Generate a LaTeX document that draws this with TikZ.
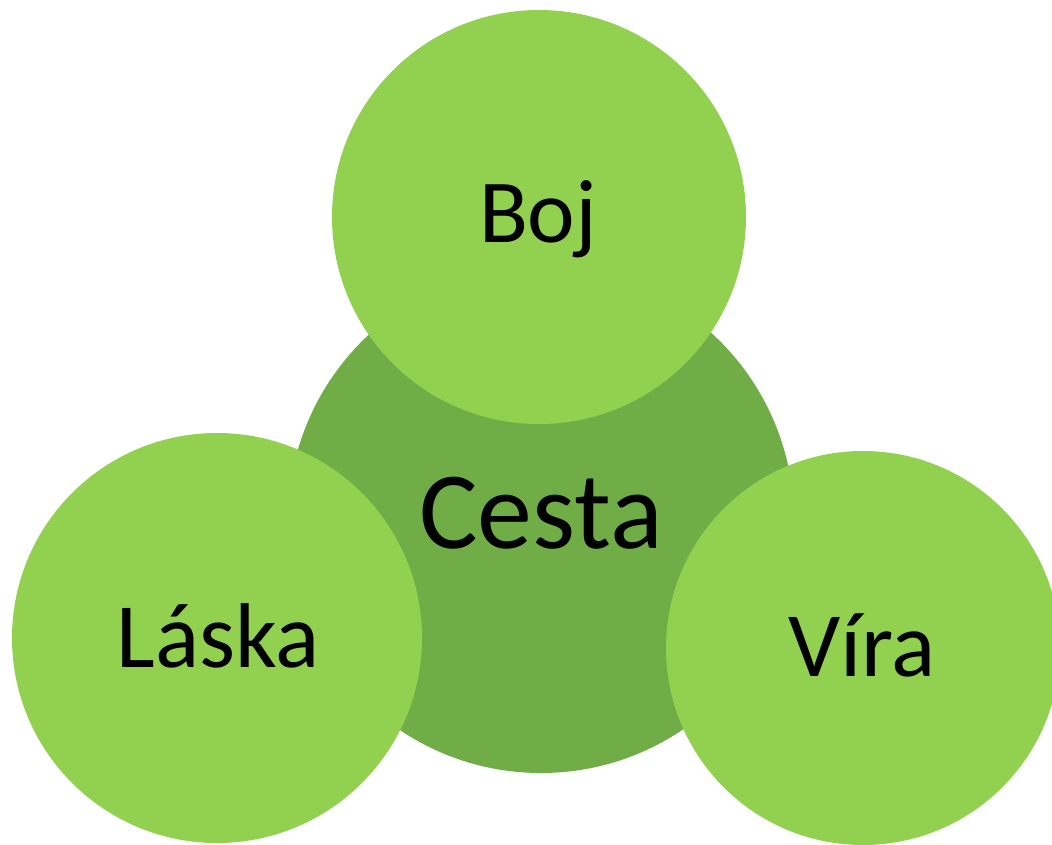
\documentclass[tikz,border=0pt]{standalone}
\usepackage{fontspec}
\setmainfont{Carlito}
\definecolor{lightg}{HTML}{92D050}
\definecolor{darkg}{HTML}{70AD47}
\begin{document}
\begin{tikzpicture}[x=1pt,y=-1pt,
  bubble/.style={circle,inner sep=0pt,fill=lightg,draw=none},
  core/.style={circle,inner sep=0pt,fill=darkg,draw=none},
  word/.style={anchor=base,inner sep=0pt,text=black}]
\useasboundingbox (0,0) rectangle (1052,845);
\node[core,minimum size=506pt] (cesta) at (541,520) {};
\node[bubble,minimum size=414pt] (boj) at (539,217) {};
\node[bubble,minimum size=410pt] (laska) at (217,638) {};
\node[bubble,minimum size=394pt] (vira) at (863,648) {};
\node[word,font=\fontsize{110}{120}\selectfont] (tcesta) at (541,548) {Cesta};
\node[word,font=\fontsize{90}{100}\selectfont] (tboj) at (538,243) {Boj};
\node[word,font=\fontsize{92}{100}\selectfont] (tlaska) at (218,667) {Láska};
\node[word,font=\fontsize{92}{100}\selectfont] (tvira) at (862,676) {Víra};
\end{tikzpicture}
\end{document}
